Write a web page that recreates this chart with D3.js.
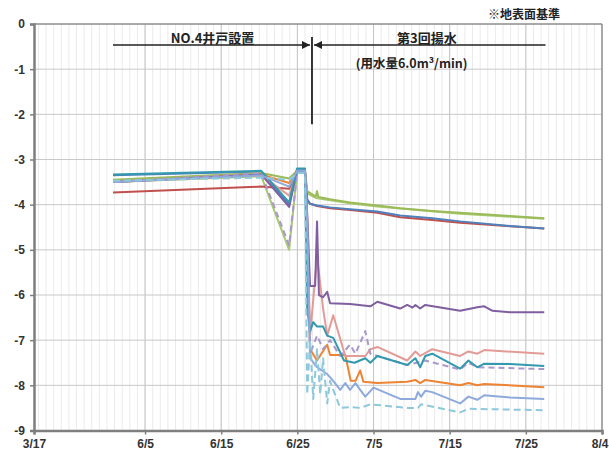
<!DOCTYPE html>
<html>
<head>
<meta charset="utf-8">
<script src="https://cdn.jsdelivr.net/npm/d3@7/dist/d3.min.js"></script>
<style>
  body { margin: 0; background: #fff; }
  text { font-family: "Liberation Sans", Arial, sans-serif; }
  .jp { font-family: "Noto Sans CJK JP", "Noto Sans", sans-serif; font-weight: bold; fill: #222; }
</style>
</head>
<body>
<div id="chart"></div>
<script>
const parseT = d3.timeParse("%m/%d %H");

// axis
const xTickDates = ["5/21 10", "6/5 00", "6/15 00", "6/25 00", "7/5 00", "7/15 00", "7/25 00", "8/4 00"];
const xTickLabels = ["3/17", "6/5", "6/15", "6/25", "7/5", "7/15", "7/25", "8/4"];
const yTicks = [0, -1, -2, -3, -4, -5, -6, -7, -8, -9];

// series (date "M/D H", level m)
const green = [["5/31 19",-3.45],["6/20 06",-3.3],["6/23 22",-3.42],["6/24 23",-3.25],["6/26 00",-3.25],["6/26 07",-3.7],["6/27 10",-3.82],["6/27 14",-3.7],["6/27 18",-3.83],["6/29 07",-3.88],["7/1 22",-3.95],["7/5 12",-4.02],["7/8 12",-4.08],["7/12 17",-4.14],["7/16 09",-4.18],["7/22 22",-4.25],["7/27 10",-4.3]];
const green2 = [["5/31 19",-3.5],["6/20 06",-3.37],["6/23 22",-5.0],["6/24 23",-3.3],["6/26 00",-3.3],["6/26 07",-3.75],["6/27 10",-3.85],["6/29 07",-3.9],["7/1 22",-3.97],["7/5 12",-4.04],["7/16 09",-4.2],["7/27 10",-4.31]];
const red = [["5/31 19",-3.73],["6/20 06",-3.6],["6/23 22",-3.65],["6/24 23",-3.3],["6/26 00",-3.3],["6/26 07",-3.9],["6/26 16",-3.98],["6/27 14",-4.03],["6/29 07",-4.08],["7/1 22",-4.12],["7/5 12",-4.18],["7/8 12",-4.28],["7/12 17",-4.34],["7/16 09",-4.4],["7/22 22",-4.48],["7/27 10",-4.53]];
const blue = [["5/31 19",-3.35],["6/20 06",-3.27],["6/23 22",-4.0],["6/24 23",-3.22],["6/26 00",-3.22],["6/26 07",-3.88],["6/26 16",-3.98],["6/27 14",-4.02],["6/29 07",-4.06],["7/1 22",-4.1],["7/5 12",-4.15],["7/8 12",-4.24],["7/12 17",-4.3],["7/16 09",-4.37],["7/22 22",-4.47],["7/27 10",-4.53]];
const teal = [["5/31 19",-3.33],["6/20 06",-3.25],["6/23 22",-3.95],["6/24 23",-3.2],["6/26 00",-3.2],["6/26 07",-6.3],["6/26 16",-6.8],["6/27 02",-6.6],["6/27 14",-6.7],["6/28 09",-6.7],["6/28 22",-6.9],["6/29 17",-6.95],["7/1 03",-7.45],["7/2 12",-7.5],["7/3 22",-7.4],["7/4 14",-7.5],["7/5 12",-7.35],["7/9 10",-7.55],["7/10 12",-7.4],["7/11 03",-7.6],["7/11 19",-7.35],["7/12 17",-7.3],["7/16 09",-7.63],["7/17 11",-7.45],["7/18 15",-7.6],["7/19 13",-7.52],["7/22 22",-7.53],["7/27 10",-7.57]];
const purple = [["5/31 19",-3.5],["6/20 06",-3.33],["6/23 22",-4.05],["6/24 23",-3.25],["6/26 00",-3.25],["6/26 07",-4.2],["6/26 16",-5.8],["6/27 08",-5.8],["6/27 14",-4.37],["6/27 20",-6.0],["6/28 09",-6.05],["6/28 22",-5.93],["6/29 07",-6.18],["7/1 22",-6.2],["7/4 14",-6.25],["7/5 12",-6.15],["7/8 12",-6.3],["7/9 10",-6.22],["7/10 03",-6.28],["7/10 12",-6.22],["7/11 03",-6.3],["7/11 19",-6.22],["7/16 09",-6.35],["7/18 15",-6.27],["7/19 13",-6.25],["7/20 15",-6.35],["7/22 22",-6.38],["7/27 10",-6.38]];
const pink = [["5/31 19",-3.5],["6/20 06",-3.35],["6/23 22",-3.8],["6/24 23",-3.28],["6/26 00",-3.28],["6/26 07",-4.3],["6/26 16",-6.9],["6/27 14",-5.15],["6/28 09",-6.3],["6/28 22",-6.9],["6/29 17",-6.45],["7/1 07",-7.35],["7/3 22",-7.35],["7/4 14",-7.2],["7/5 12",-7.15],["7/9 10",-7.45],["7/10 12",-7.25],["7/11 03",-7.35],["7/12 17",-7.2],["7/16 09",-7.35],["7/17 11",-7.25],["7/18 15",-7.3],["7/19 13",-7.22],["7/27 10",-7.3]];
const lavender = [["5/31 19",-3.5],["6/20 06",-3.3],["6/23 22",-4.9],["6/24 23",-3.3],["6/26 00",-3.3],["6/26 07",-4.5],["6/26 16",-7.3],["6/27 14",-6.9],["6/28 09",-7.2],["6/29 07",-7.0],["6/30 15",-7.35],["7/1 22",-7.1],["7/2 15",-7.3],["7/3 22",-6.8],["7/4 14",-7.3],["7/9 10",-7.55],["7/11 19",-7.45],["7/16 09",-7.65],["7/17 11",-7.5],["7/18 15",-7.6],["7/27 10",-7.64]];
const orange = [["5/31 19",-3.5],["6/20 06",-3.33],["6/23 22",-3.52],["6/24 23",-3.27],["6/26 00",-3.27],["6/26 07",-4.4],["6/26 16",-7.2],["6/27 14",-7.45],["6/28 22",-7.1],["6/29 07",-7.33],["7/1 07",-7.33],["7/2 00",-7.9],["7/2 15",-7.9],["7/3 06",-7.67],["7/3 16",-7.92],["7/5 12",-7.95],["7/9 10",-7.92],["7/10 12",-7.88],["7/11 03",-7.95],["7/11 19",-7.88],["7/16 09",-8.0],["7/17 11",-7.95],["7/18 15",-8.0],["7/19 13",-7.97],["7/27 10",-8.04]];
const lightBlue = [["5/31 19",-3.5],["6/20 06",-3.35],["6/23 22",-3.6],["6/24 23",-3.25],["6/26 00",-3.25],["6/26 07",-4.4],["6/26 16",-7.4],["6/27 14",-7.6],["6/28 22",-7.75],["6/29 17",-7.9],["6/30 15",-8.1],["7/1 07",-7.95],["7/1 22",-8.1],["7/2 15",-7.95],["7/3 06",-8.1],["7/3 22",-8.25],["7/5 00",-8.05],["7/8 12",-8.3],["7/10 12",-8.3],["7/10 20",-8.15],["7/11 06",-8.25],["7/11 19",-8.12],["7/12 17",-8.15],["7/16 09",-8.4],["7/17 11",-8.25],["7/18 15",-8.32],["7/19 13",-8.22],["7/22 22",-8.27],["7/27 10",-8.3]];
const lightBlueDash = [["5/31 19",-3.47],["6/20 06",-3.4],["6/23 22",-3.45],["6/24 23",-3.3],["6/26 00",-3.3],["6/26 07",-8.2],["6/26 16",-7.0],["6/27 02",-8.3],["6/27 14",-7.2],["6/28 00",-8.2],["6/28 09",-7.4],["6/28 22",-8.4],["6/29 07",-7.9],["6/29 17",-8.1],["6/30 15",-8.5],["7/1 22",-8.48],["7/3 06",-8.5],["7/4 14",-8.42],["7/9 10",-8.5],["7/10 20",-8.5],["7/11 06",-8.42],["7/16 09",-8.6],["7/17 11",-8.52],["7/27 10",-8.55]];

const seriesList = [
  { data: green2, color: "#abc972" },
  { data: red, color: "#c0504d" },
  { data: blue, color: "#4f81bd" },
  { data: green, color: "#9bbb59" },
  { data: orange, color: "#ee8433" },
  { data: pink, color: "#e39b97" },
  { data: purple, color: "#7f5fa0" },
  { data: lavender, color: "#a898cc", dash: "6,4" },
  { data: teal, color: "#3399ae" },
  { data: lightBlue, color: "#8eaadc" },
  { data: lightBlueDash, color: "#8dc8db", dash: "7,4" }
];

const W = 609, H = 450;
const margin = { top: 24, right: 7, bottom: 19.5, left: 34 };
const width = W - margin.left - margin.right;
const height = H - margin.top - margin.bottom;

const svg = d3.select("#chart").append("svg")
  .attr("width", W).attr("height", H);
const g = svg.append("g").attr("transform", `translate(${margin.left},${margin.top})`);

const tickDates = xTickDates.map(parseT);
const x = d3.scaleTime().domain([tickDates[0], tickDates[tickDates.length - 1]]).range([0, width]);
const y = d3.scaleLinear().domain([0, -9]).range([0, height]);

// daily minor gridlines
g.append("g").selectAll("line")
  .data(d3.timeDay.range(d3.timeDay.ceil(x.domain()[0]), x.domain()[1]))
  .join("line")
  .attr("x1", d => x(d)).attr("x2", d => x(d))
  .attr("y1", 0).attr("y2", height)
  .attr("stroke", "#ebebeb").attr("stroke-width", 1);

// major gridlines
g.append("g").selectAll("line")
  .data(tickDates.slice(1, -1))
  .join("line")
  .attr("x1", d => x(d)).attr("x2", d => x(d))
  .attr("y1", 0).attr("y2", height)
  .attr("stroke", "#c4c4c4").attr("stroke-width", 1);

g.append("g").selectAll("line")
  .data(yTicks.slice(1, -1))
  .join("line")
  .attr("x1", 0).attr("x2", width)
  .attr("y1", d => y(d)).attr("y2", d => y(d))
  .attr("stroke", "#c8c8c8").attr("stroke-width", 1);

// frame top/right
g.append("line").attr("x1", 0).attr("x2", width).attr("y1", 0).attr("y2", 0)
  .attr("stroke", "#8c8c8c").attr("stroke-width", 1.5);
g.append("line").attr("x1", width).attr("x2", width).attr("y1", 0).attr("y2", height)
  .attr("stroke", "#8c8c8c").attr("stroke-width", 1.5);

// lines
const line = d3.line()
  .x(d => x(parseT(d[0])))
  .y(d => y(d[1]));

g.append("g").selectAll("path")
  .data(seriesList)
  .join("path")
  .attr("d", d => line(d.data))
  .attr("fill", "none")
  .attr("stroke", d => d.color)
  .attr("stroke-width", 2)
  .attr("stroke-linejoin", "round")
  .attr("stroke-dasharray", d => d.dash || null);

// axes
const yAxis = g.append("g")
  .call(d3.axisLeft(y).tickValues(yTicks).tickSize(4).tickFormat(d => String(d)));
const xAxis = g.append("g")
  .attr("transform", `translate(0,${height})`)
  .call(d3.axisBottom(x).tickValues(tickDates).tickSize(4).tickFormat((d, i) => xTickLabels[i]));

svg.selectAll(".domain").attr("stroke", "#7f7f7f").attr("stroke-width", 2.5);
svg.selectAll(".tick line").attr("stroke", "#7f7f7f").attr("stroke-width", 1.5);
yAxis.selectAll("text").attr("font-size", "12px").attr("font-weight", "bold").attr("fill", "#333").attr("x", -9);
xAxis.selectAll("text").attr("font-size", "12px").attr("font-weight", "bold").attr("fill", "#333").attr("dy", "0.9em");
xAxis.selectAll(".tick:last-of-type text").attr("text-anchor", "end").attr("dx", "6px");

// annotations
const defs = svg.append("defs");
defs.append("marker").attr("id", "arr")
  .attr("viewBox", "0 0 10 10").attr("refX", 10).attr("refY", 5)
  .attr("markerWidth", 8).attr("markerHeight", 8).attr("orient", "auto")
  .attr("markerUnits", "userSpaceOnUse")
  .append("path").attr("d", "M0,0L10,5L0,10Z").attr("fill", "#222");

const annY = 21;
const xStart = x(parseT("5/31 19")), xPump = x(parseT("6/26 22")), xEnd = x(parseT("7/27 14"));

g.append("line")
  .attr("x1", xStart).attr("x2", xPump - 2)
  .attr("y1", annY).attr("y2", annY)
  .attr("stroke", "#222").attr("stroke-width", 1.3)
  .attr("marker-end", "url(#arr)");
g.append("line")
  .attr("x1", xEnd).attr("x2", xPump + 2)
  .attr("y1", annY).attr("y2", annY)
  .attr("stroke", "#222").attr("stroke-width", 1.3)
  .attr("marker-end", "url(#arr)");
g.append("line")
  .attr("x1", xPump).attr("x2", xPump)
  .attr("y1", 13).attr("y2", y(-2.22))
  .attr("stroke", "#333").attr("stroke-width", 2);

g.append("text").attr("class", "jp")
  .attr("x", (xStart + xPump) / 2).attr("y", annY - 2)
  .attr("text-anchor", "middle").attr("font-size", "13px")
  .text("NO.4井戸設置");
g.append("text").attr("class", "jp")
  .attr("x", x(parseT("7/12 00"))).attr("y", annY - 2)
  .attr("text-anchor", "middle").attr("font-size", "13px")
  .text("第3回揚水");
g.append("text").attr("class", "jp")
  .attr("x", x(parseT("7/10 00"))).attr("y", annY + 23)
  .attr("text-anchor", "middle").attr("font-size", "12.5px")
  .text("(用水量6.0m³/min)");

svg.append("text").attr("class", "jp")
  .attr("x", 524).attr("y", 19)
  .attr("text-anchor", "middle").attr("font-size", "12px")
  .text("※地表面基準");
</script>
</body>
</html>
